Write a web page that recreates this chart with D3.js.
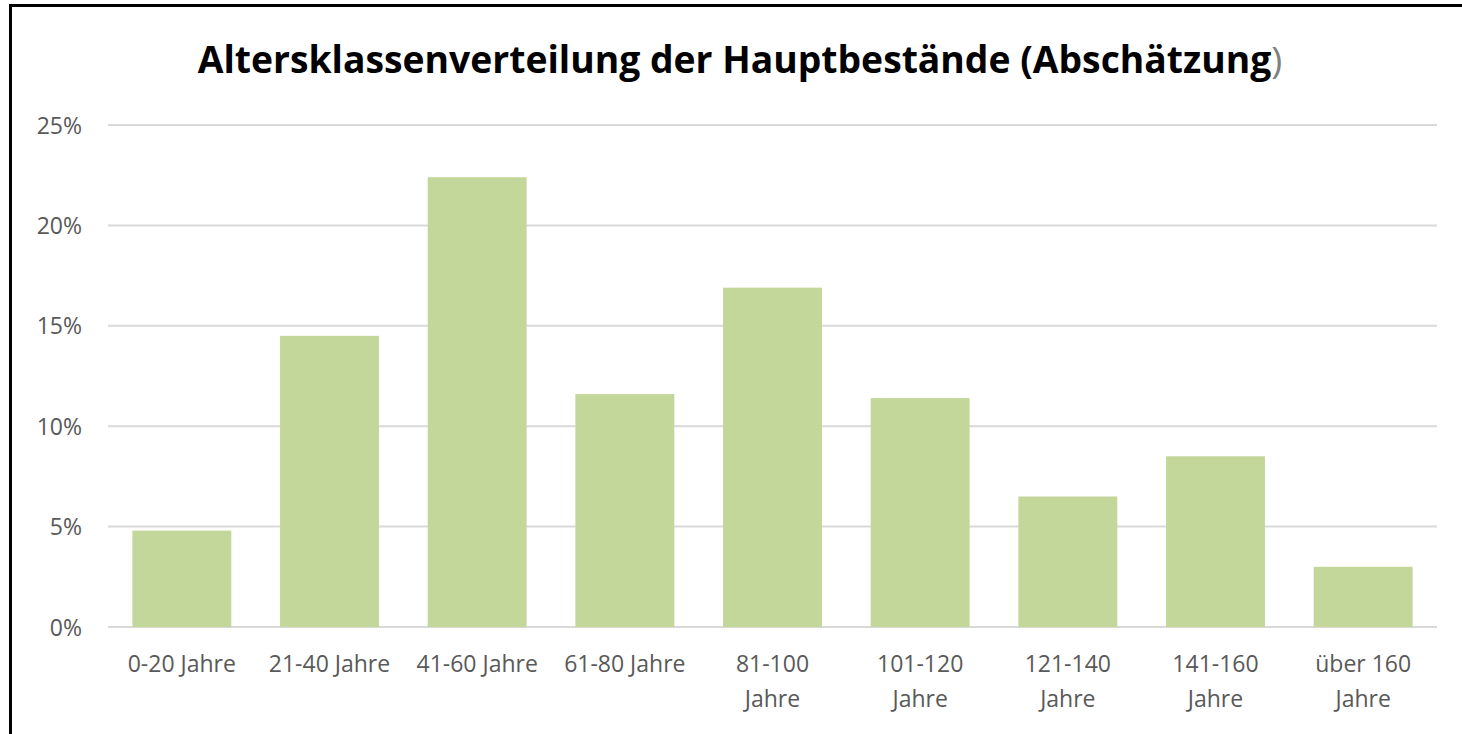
<!DOCTYPE html>
<html><head><meta charset="utf-8">
<script src="https://cdn.jsdelivr.net/npm/d3@7"></script>
<style>html,body{margin:0;padding:0;background:#fff;}svg{display:block;}</style>
</head><body>
<svg id="chart" width="1462" height="734"></svg>
<script>
const categories = ["0-20 Jahre","21-40 Jahre","41-60 Jahre","61-80 Jahre","81-100 Jahre","101-120 Jahre","121-140 Jahre","141-160 Jahre","über 160 Jahre"];
const labelLines = [["0-20 Jahre"],["21-40 Jahre"],["41-60 Jahre"],["61-80 Jahre"],["81-100","Jahre"],["101-120","Jahre"],["121-140","Jahre"],["141-160","Jahre"],["über 160","Jahre"]];
const values = [0.048, 0.145, 0.224, 0.116, 0.169, 0.114, 0.065, 0.085, 0.030];
const yTicks = [0, 0.05, 0.10, 0.15, 0.20, 0.25];
const title = "Altersklassenverteilung der Hauptbestände (Abschätzung";

const svg = d3.select("#chart");
const font = "'Open Sans', 'Noto Sans', sans-serif";

// border (left + top)
svg.append("line").attr("x1",10.5).attr("x2",10.5).attr("y1",4).attr("y2",734).attr("stroke","#000").attr("stroke-width",3);
svg.append("line").attr("x1",9).attr("x2",1462).attr("y1",5.5).attr("y2",5.5).attr("stroke","#000").attr("stroke-width",3);

const x = d3.scaleBand().domain(categories).range([108, 1437]).paddingInner(0.33).paddingOuter(0.165);
const y = d3.scaleLinear().domain([0, 0.25]).range([627, 125]);

// gridlines
svg.append("g").selectAll("line").data(yTicks).join("line")
  .attr("x1",108).attr("x2",1437).attr("y1",d=>y(d)).attr("y2",d=>y(d))
  .attr("stroke","#d9d9d9").attr("stroke-width",2);

// y axis labels
const yAxis = d3.axisLeft(y).tickValues(yTicks).tickFormat(d3.format(".0%")).tickSize(0).tickPadding(0);
const ya = svg.append("g").attr("transform","translate(82,0)").call(yAxis);
ya.select(".domain").remove();
ya.selectAll("text").attr("font-family",font).attr("font-size",23).attr("fill","#595959").attr("dy","0.35em");

// bars
svg.append("g").selectAll("rect").data(values).join("rect")
  .attr("x",(d,i)=>x(categories[i])).attr("width",x.bandwidth())
  .attr("y",d=>y(d)).attr("height",d=>y(0)-y(d))
  .attr("fill","#c4d79b");

// x labels
const xl = svg.append("g");
categories.forEach((c,i)=>{
  const t = xl.append("text").attr("x",x(c)+x.bandwidth()/2).attr("y",672)
    .attr("text-anchor","middle").attr("font-family",font).attr("font-size",23).attr("fill","#595959");
  labelLines[i].forEach((ln,j)=>{
    t.append("tspan").attr("x",x(c)+x.bandwidth()/2).attr("dy", j===0?0:35).text(ln);
  });
});

// title
const tt = svg.append("text").attr("x",740).attr("y",73).attr("text-anchor","middle")
  .attr("font-family",font).attr("font-weight","bold").attr("font-size",32).attr("fill","#000");
tt.append("tspan").text(title);
tt.append("tspan").attr("fill","#7f7f7f").attr("font-weight","normal").text(")");
// fit title width to ~1085px
const w = tt.node().getComputedTextLength();
const fs = 32*1085/w;
tt.attr("font-size", Math.min(fs, 38));
</script>
</body></html>
